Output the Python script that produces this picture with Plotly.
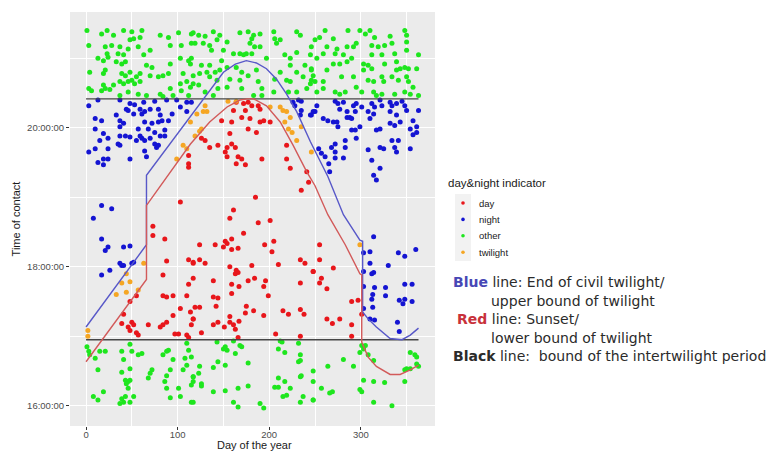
import plotly.graph_objects as go

# ---- observations: day of year and time of contact (minutes after midnight) ----
day_x = [73, 73, 86, 88, 112, 117, 84, 112, 84, 88, 95, 110, 55, 48, 41, 103, 95, 117, 114, 39,
         50, 52, 46, 48, 55, 57, 68, 81, 84, 88, 97, 101, 110, 112,
         112, 112, 112, 103,
         164, 172, 177, 181, 188, 190, 161, 174, 179, 159, 148, 170, 177, 190, 194, 201, 186, 157,
         159, 163, 154, 135, 144, 126, 130, 152, 154, 166, 170, 164, 174, 192, 219, 219, 223, 241,
         243, 235, 185, 161,
         157, 188, 201, 172, 124, 141, 152, 150, 154, 159, 159, 166, 195, 205, 203, 124, 130, 117,
         157, 164, 166, 163, 181, 210, 234, 239, 248, 117, 139, 159, 167, 177, 184, 196, 194, 234,
         199, 139, 144, 159, 119, 124, 142, 175, 183, 174, 194, 215, 221, 234, 238, 117, 115, 144,
         157, 157, 161, 167, 139, 151, 163, 126, 207, 234, 166,
         255, 255, 270, 248, 257, 255, 263, 290, 297, 301, 263, 269, 277, 290, 290]
day_y = [1115, 1107, 1104, 1085, 1086, 1083, 1073, 1065, 1055, 1054, 1055, 1055, 1055, 1050, 1039, 1044, 1038, 1035, 1041, 1031,
         1032, 1030, 1028, 1025, 1023, 1021, 1030, 1028, 1030, 1032, 1022, 1022, 1021, 1019,
         1176, 1169, 1166, 1136,
         1222, 1221, 1222, 1219, 1219, 1216, 1215, 1215, 1208, 1205, 1206, 1209, 1199, 1205, 1206, 1205, 1196, 1195,
         1186, 1183, 1183, 1183, 1185, 1191, 1189, 1179, 1175, 1175, 1173, 1169, 1168, 1173, 1185, 1173, 1165, 1162,
         1153, 1146, 1140, 1129,
         1122, 1118, 1120, 1109, 1099, 1099, 1102, 1097, 1100, 1104, 1095, 1096, 1099, 1102, 1093, 1086, 1083, 1084,
         1080, 1077, 1075, 1074, 1081, 1082, 1086, 1083, 1076, 1070, 1068, 1065, 1063, 1068, 1070, 1068, 1063, 1066,
         1055, 1054, 1053, 1057, 1045, 1045, 1046, 1046, 1042, 1040, 1038, 1042, 1039, 1043, 1039, 1035, 1030, 1032,
         1037, 1032, 1030, 1033, 1030, 1028, 1026, 1023, 1022, 1020, 1019,
         1099, 1086, 1079, 1076, 1070, 1066, 1061, 1050, 1051, 1039, 1035, 1031, 1035, 1030, 1020]

night_x = [3, 13, 37, 48, 53, 63, 75, 88, 99, 110, 44, 46, 59, 70, 79, 103, 110, 33, 52, 61,
           64, 81, 94, 10, 17, 37, 41, 64, 72, 79, 83, 90, 10, 37, 57, 68, 75, 86, 19, 37,
           43, 48, 59, 61, 64, 70, 81, 86, 15, 24, 35, 37, 55, 75, 77, 79, 3, 10, 24, 64,
           13, 19, 24, 19, 48, 66, 17, 28,
           8, 17, 24, 21, 41, 48, 37, 39, 50, 52, 41, 17, 26,
           226, 232, 235, 228, 235, 234, 245, 248, 115,
           272, 275, 281, 292, 295, 301, 312, 315, 321, 323, 332, 334, 339, 345, 348, 252, 250, 246,
           277, 285, 294, 308, 314, 332, 350, 363, 259, 264, 270, 274, 285, 288, 290, 275, 299, 310,
           339, 343, 357, 332, 290, 294, 317, 321, 354, 361, 361, 357, 337, 283, 295, 334, 341, 321,
           325, 337, 339, 354, 254, 257, 261, 272, 272, 268, 283, 281, 272, 265, 266, 308, 312, 321,
           314, 317,
           314, 303, 310, 310, 330, 341, 348, 360, 303, 314, 312, 303, 315, 327, 348, 356, 313, 327,
           312, 342, 348, 356, 346, 313, 303, 310, 315, 340, 342]
night_y = [1219, 1224, 1224, 1221, 1220, 1222, 1223, 1224, 1224, 1222, 1216, 1215, 1216, 1216, 1216, 1218, 1214, 1211, 1212, 1212,
           1214, 1211, 1212, 1208, 1206, 1206, 1204, 1205, 1204, 1205, 1206, 1206, 1199, 1201, 1199, 1199, 1196, 1198, 1195, 1193,
           1193, 1192, 1193, 1191, 1189, 1191, 1193, 1193, 1189, 1191, 1186, 1185, 1189, 1186, 1183, 1185, 1179, 1182, 1182, 1180,
           1170, 1173, 1173, 1168, 1173, 1175, 1133, 1130,
           1122, 1104, 1097, 1094, 1097, 1098, 1083, 1081, 1083, 1084, 1081, 1073, 1077,
           1222, 1224, 1223, 1219, 1215, 1211, 1211, 1214, 1222,
           1223, 1221, 1222, 1219, 1221, 1218, 1221, 1218, 1224, 1219, 1222, 1219, 1221, 1223, 1219, 1219, 1214, 1211,
           1216, 1214, 1214, 1214, 1212, 1214, 1215, 1215, 1208, 1206, 1205, 1205, 1209, 1209, 1208, 1201, 1201, 1208,
           1211, 1205, 1206, 1204, 1198, 1198, 1198, 1199, 1199, 1201, 1196, 1194, 1202, 1189, 1191, 1189, 1189, 1183,
           1182, 1183, 1179, 1182, 1182, 1178, 1175, 1179, 1186, 1183, 1183, 1174, 1174, 1169, 1162, 1181, 1172, 1165,
           1159, 1155,
           1106, 1092, 1093, 1083, 1081, 1092, 1089, 1095, 1076, 1075, 1074, 1063, 1062, 1062, 1065, 1065, 1056, 1055,
           1052, 1051, 1052, 1050, 1048, 1045, 1044, 1035, 1034, 1032, 1024]

other_x = [1, 17, 23, 30, 41, 50, 61, 81, 90, 101, 115, 52, 48, 59, 3, 21, 28, 37, 46, 57,
           70, 92, 104, 115, 23, 24, 35, 41, 13, 19, 33, 39, 43, 63, 66, 72, 92, 103, 112, 114,
           21, 19, 39, 43, 48, 55, 59, 70, 79, 84, 90, 4, 106, 37, 41, 46, 50, 53, 59, 19,
           21, 26, 3, 6, 30, 103, 110, 92, 104, 114, 57, 81, 37, 46, 66, 84, 95, 112, 17,
           117, 123, 130, 139, 146, 143, 119, 128, 135, 154, 168, 177, 183, 190, 205, 206, 212, 208, 230, 234,
           181, 179, 184, 190, 137, 150, 161, 168, 175, 172, 181, 197, 217, 223, 230, 246, 245, 115, 126, 135,
           148, 154, 117, 124, 132, 141, 146, 164, 170, 177, 186, 212, 223, 230, 239, 246, 135, 143, 157, 168,
           188, 206, 219, 237, 245, 117, 130, 144, 154, 170, 183, 192, 205, 221, 230, 241, 139, 123, 192, 223,
           261, 255, 250, 270, 286, 299, 310, 305, 315, 332, 348, 350, 263, 274, 285, 292, 295, 312, 319, 326,
           334, 350, 350, 259, 252, 272, 281, 290, 312, 323, 337, 363, 270, 277, 285, 303, 308, 326, 339, 348,
           352, 361, 246, 263, 303, 312, 339, 343, 248, 246, 250, 259, 279, 292, 308, 314, 323, 325, 334, 341,
           350, 352, 252, 272, 277, 283, 295, 301, 314, 323, 337, 348, 354, 363, 317, 357, 259,
           1, 3, 4, 10, 15, 21, 39, 48, 50, 41, 57, 61, 13, 39, 48, 72, 70, 68, 43, 46,
           48, 44, 46, 90, 88, 84, 95, 110, 112, 108, 110, 106, 92, 88, 86, 88, 101, 92, 103, 19,
           8, 13, 39, 41, 43, 52, 48, 37, 115, 117, 115,
           143, 161, 150, 152, 154, 168, 170, 163, 115, 212, 214, 210, 217, 232, 234, 232, 234, 177, 144, 152,
           139, 124, 123, 117, 117, 126, 126, 139, 152, 166, 177, 210, 217, 223, 206, 210, 219, 215, 235, 234,
           237, 234, 248, 117, 161, 166, 190, 194,
           301, 305, 303, 299, 308, 314, 281, 292, 264, 248, 248, 257, 266, 269, 299, 301, 303, 314, 326, 348,
           248, 314, 334, 354, 359, 361, 361, 363, 354, 350, 348]
other_y = [1284, 1281, 1284, 1280, 1284, 1283, 1284, 1280, 1278, 1282, 1281, 1277, 1276, 1278, 1271, 1270, 1271, 1270, 1268, 1270,
           1267, 1271, 1271, 1273, 1264, 1261, 1264, 1263, 1260, 1258, 1257, 1255, 1257, 1263, 1254, 1252, 1255, 1260, 1258, 1255,
           1250, 1247, 1247, 1245, 1248, 1244, 1247, 1245, 1244, 1245, 1247, 1248, 1247, 1240, 1238, 1240, 1241, 1238, 1240, 1237,
           1234, 1233, 1234, 1232, 1237, 1238, 1240, 1234, 1232, 1235, 1229, 1229, 1228, 1231, 1228, 1227, 1228, 1228, 1232,
           1282, 1280, 1279, 1283, 1280, 1276, 1273, 1273, 1271, 1274, 1282, 1283, 1280, 1281, 1283, 1277, 1276, 1273, 1283, 1280,
           1277, 1273, 1270, 1270, 1267, 1267, 1264, 1264, 1264, 1263, 1264, 1260, 1263, 1260, 1265, 1270, 1263, 1260, 1254, 1254,
           1258, 1252, 1245, 1247, 1248, 1248, 1250, 1252, 1248, 1245, 1250, 1248, 1254, 1248, 1254, 1250, 1244, 1241, 1242, 1241,
           1240, 1242, 1241, 1244, 1238, 1238, 1231, 1234, 1235, 1234, 1228, 1234, 1231, 1231, 1231, 1234, 1228, 1237, 1228, 1240,
           1284, 1278, 1276, 1277, 1284, 1284, 1284, 1281, 1278, 1279, 1284, 1280, 1270, 1268, 1270, 1270, 1273, 1271, 1270, 1271,
           1273, 1274, 1267, 1264, 1260, 1264, 1263, 1260, 1263, 1263, 1264, 1263, 1255, 1255, 1257, 1255, 1254, 1255, 1257, 1252,
           1251, 1251, 1251, 1250, 1250, 1251, 1250, 1251, 1245, 1241, 1240, 1240, 1244, 1244, 1241, 1240, 1244, 1240, 1244, 1241,
           1244, 1240, 1231, 1231, 1229, 1231, 1235, 1231, 1231, 1229, 1229, 1231, 1229, 1228, 1228, 1235, 1234,
           1011, 1007, 1004, 1001, 1007, 1007, 1007, 1013, 1007, 1000, 1004, 1005, 991, 989, 992, 991, 988, 984, 982, 981,
           982, 979, 975, 1008, 1007, 1004, 1000, 1014, 1008, 1001, 995, 991, 991, 986, 981, 975, 975, 967, 968, 972,
           968, 965, 966, 963, 968, 968, 963, 962, 963, 985, 978,
           1015, 1016, 1009, 1011, 1008, 1012, 1011, 1005, 1002, 1016, 1015, 1009, 1006, 1014, 1004, 998, 999, 997, 998, 995,
           993, 994, 988, 985, 981, 979, 977, 972, 973, 975, 977, 984, 981, 975, 976, 976, 969, 968, 986, 985,
           968, 963, 965, 963, 963, 959, 962, 958,
           1012, 1012, 1009, 1006, 1004, 999, 1000, 994, 994, 990, 981, 975, 971, 972, 974, 972, 982, 981, 980, 981,
           965, 963, 960, 1006, 1004, 1002, 996, 994, 992, 992, 991]

twilight_x = [63, 44, 39, 48, 33, 44, 57, 2, 2,
              114, 106, 110, 99,
              155, 164, 130, 132, 121, 128, 126, 124, 119,
              201, 212, 215, 219, 223, 217, 221, 225, 235, 230, 246, 299]
twilight_y = [1083, 1074, 1066, 1067, 1056, 1058, 1060, 1025, 1020,
              1205, 1185, 1182, 1173,
              1223, 1223, 1219, 1214, 1212, 1214, 1199, 1197, 1193,
              1218, 1218, 1215, 1214, 1209, 1205, 1199, 1196, 1201, 1189, 1179, 1099]

# ---- reference curves (minutes after midnight) ----
civil_x = [0, 64, 66, 66, 97, 119, 128, 150, 163, 175, 186, 197, 208, 219, 230, 245, 264, 281, 299, 302,
           302, 308, 317, 332, 345, 354, 363]
civil_y = [1028, 1096, 1099, 1159, 1192, 1216, 1225, 1248, 1255, 1258, 1256, 1251, 1242, 1229, 1214, 1188, 1158, 1125, 1103, 1102,
           1041, 1035, 1028, 1018, 1017, 1021, 1027]

sunset_x = [0, 64, 66, 66, 90, 114, 135, 154, 168, 176, 183, 197, 212, 226, 241, 250, 264, 283, 299, 301,
            301, 308, 317, 332, 343, 354, 363]
sunset_y = [998, 1067, 1069, 1133, 1160, 1186, 1205, 1218, 1224, 1225, 1225, 1219, 1205, 1185, 1162, 1150, 1125, 1099, 1074, 1073,
            1015, 1002, 994, 987, 987, 991, 995]

bound_x = [0, 363]
upper_bound = 1225
lower_bound = 1017

x_ticks = [0, 100, 200, 300]
x_minor = [50, 150, 250, 350]
y_ticks = [960, 1080, 1200]
y_tick_labels = ["16:00:00", "18:00:00", "20:00:00"]
y_minor = [1020, 1140, 1260]

legend_title = "day&night indicator"
legend_labels = ["day", "night", "other", "twilight"]
legend_colors = ["#e8161b", "#1414d2", "#1ee61e", "#f5a623"]

W, H = 782, 451
L, R, T, B = 70, 347, 12, 25
PW, PH = W - L - R, H - T - B


def px(xp):
    return (xp - L) / PW


def py(yp):
    return (H - B - yp) / PH


fig = go.Figure()

series = [(day_x, day_y), (night_x, night_y), (other_x, other_y), (twilight_x, twilight_y)]
for name, (xs, ys), col in zip(legend_labels, series, legend_colors):
    fig.add_trace(go.Scatter(
        x=xs, y=ys, mode="markers", name=name, showlegend=False,
        marker=dict(color=col, size=5, line=dict(width=0)),
    ))

for xs, ys, col in [
    (bound_x, [upper_bound, upper_bound], "#474747"),
    (bound_x, [lower_bound, lower_bound], "#474747"),
    (civil_x, civil_y, "#5858c8"),
    (sunset_x, sunset_y, "#d25a5a"),
]:
    fig.add_trace(go.Scatter(
        x=xs, y=ys, mode="lines", showlegend=False, hoverinfo="skip",
        line=dict(color=col, width=1.4),
    ))

sans = "Liberation Sans, Arial, sans-serif"
tick_font = dict(family=sans, size=9.5, color="#4d4d4d")

fig.update_layout(
    width=W, height=H,
    margin=dict(l=L, r=R, t=T, b=B, pad=0),
    paper_bgcolor="white",
    plot_bgcolor="#ebebeb",
    showlegend=False,
    xaxis=dict(
        range=[-17.5, 381], tickvals=x_ticks, ticks="outside", ticklen=3, tickcolor="#333333",
        tickfont=tick_font, ticklabelstandoff=-3,
        showgrid=True, gridcolor="white", gridwidth=1.1, zeroline=False,
        minor=dict(tickvals=x_minor, showgrid=True, gridcolor="white", gridwidth=0.5, ticks=""),
        showline=False, automargin=False,
    ),
    yaxis=dict(
        range=[942.5, 1300], tickvals=y_ticks, ticktext=y_tick_labels, ticks="outside", ticklen=3,
        tickcolor="#333333", tickfont=tick_font, showgrid=True, gridcolor="white", gridwidth=1.1,
        zeroline=False,
        minor=dict(tickvals=y_minor, showgrid=True, gridcolor="white", gridwidth=0.5, ticks=""),
        title=dict(text="Time of contact", font=dict(family=sans, size=11, color="#1a1a1a"), standoff=4),
        showline=False, automargin=False,
    ),
)

# x-axis title, placed as close to the tick labels as the bottom edge allows
fig.add_annotation(x=px(254), y=py(444.5), xref="paper", yref="paper", text="Day of the year",
                   showarrow=False, xanchor="center", yanchor="middle",
                   font=dict(family=sans, size=11, color="#1a1a1a"))

# legend for the indicator colours: key panel, dots and labels
fig.add_shape(type="rect", xref="paper", yref="paper",
              x0=px(455), x1=px(471), y0=py(261), y1=py(194),
              fillcolor="#f2f2f2", line=dict(width=0), layer="below")
fig.add_annotation(x=px(446), y=py(183), xref="paper", yref="paper", text=legend_title,
                   showarrow=False, xanchor="left", yanchor="middle",
                   font=dict(family=sans, size=11.5, color="#1a1a1a"))
for i, (lab, col) in enumerate(zip(legend_labels, legend_colors)):
    yc = 203 + i * 16.4
    fig.add_shape(type="circle", xref="paper", yref="paper",
                  x0=px(461.2), x1=px(464.8), y0=py(yc + 1.8), y1=py(yc - 1.8),
                  fillcolor=col, line=dict(width=0))
    fig.add_annotation(x=px(477), y=py(yc), xref="paper", yref="paper", text=lab,
                       showarrow=False, xanchor="left", yanchor="middle",
                       font=dict(family=sans, size=9.5, color="#1a1a1a"))

# explanatory notes below the legend
note_font = dict(family="DejaVu Sans, sans-serif", size=14, color="#2b2b2b")
notes = [
    (451, 282, "<b><span style='color:#4747b5'>Blue</span></b> line: End of civil twilight/"),
    (489, 301, "upper bound of twilight"),
    (455, 319, "<b><span style='color:#c8313a'>Red</span></b> line: Sunset/"),
    (489, 338, "lower bound of twilight"),
    (451, 356, "<b>Black</b> line:  bound of the intertwilight period"),
]
for xp, yp, txt in notes:
    fig.add_annotation(x=px(xp), y=py(yp), xref="paper", yref="paper", text=txt,
                       showarrow=False, xanchor="left", yanchor="middle", font=note_font)

fig.write_html("out.html")
